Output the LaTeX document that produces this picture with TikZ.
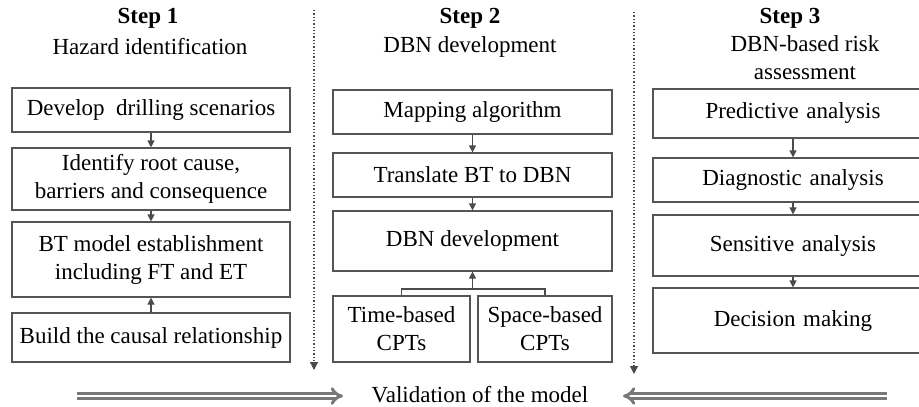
\documentclass[tikz,border=0pt]{standalone}
\usepackage{fontspec}
\setmainfont{Liberation Serif}
\usepackage{tikz}
\usetikzlibrary{arrows.meta}

\definecolor{boxline}{RGB}{85,85,85}
\definecolor{arrline}{RGB}{75,75,75}
\definecolor{bigarr}{RGB}{120,120,120}

\begin{document}
\begin{tikzpicture}[x=1pt, y=-1pt,
    font=\fontsize{23}{28}\selectfont,
    stepbox/.style={draw=boxline, line width=1.2pt, align=center, inner sep=0pt},
    flow/.style={draw=arrline, line width=1.2pt, -{Triangle[length=7pt,width=7pt]}},
    phase/.style={draw=arrline, line width=1.3pt, dotted, -{Triangle[length=8pt,width=8pt]}},
    valid/.style={draw=bigarr, line width=3pt, double=white, double distance=2.5pt, -{Implies}}]
    \useasboundingbox (0,0) rectangle (919,407);

    % step 1: hazard identification
    \node[font=\fontsize{23}{28}\selectfont\bfseries] (t1) at (148,18) {Step 1};
    \node (h1) at (150,47) {Hazard identification};
    \node[stepbox, minimum width=278pt, minimum height=44pt] (scen) at (151,110) {Develop\ \ drilling scenarios};
    \node[stepbox, minimum width=278pt, minimum height=62pt] (root) at (151,179) {Identify root cause,\\barriers and consequence};
    \node[stepbox, minimum width=278pt, minimum height=75pt] (btmod) at (151,259.5) {BT model establishment\\including FT and ET};
    \node[stepbox, minimum width=278pt, minimum height=49pt] (causal) at (151,337.5) {Build the causal relationship};

    \draw[flow] (scen) -- (root);
    \draw[flow] (root) -- (btmod);
    \draw[flow] (causal) -- (btmod);

    % step 2: DBN development
    \node[font=\fontsize{23}{28}\selectfont\bfseries] (t2) at (470,18) {Step 2};
    \node (h2) at (470,47) {DBN development};
    \node[stepbox, minimum width=279pt, minimum height=44pt] (mapalg) at (472.5,112) {Mapping algorithm};
    \node[stepbox, minimum width=279pt, minimum height=44pt] (transl) at (472.5,175) {Translate BT to DBN};
    \node[stepbox, minimum width=279pt, minimum height=60pt] (dbndev) at (472.5,241) {DBN development};
    \node[stepbox, minimum width=137pt, minimum height=66pt] (tcpt) at (401.5,329) {Time-based\\CPTs};
    \node[stepbox, minimum width=134pt, minimum height=66pt] (scpt) at (545,329) {Space-based\\CPTs};
    \coordinate (join) at (472.5,289);

    \draw[flow] (mapalg) -- (transl);
    \draw[flow] (transl) -- (dbndev);
    \draw[draw=arrline, line width=1.2pt] (tcpt.north) |- (join) -| (scpt.north);
    \draw[flow] (join) -- (dbndev.south);

    % step 3: DBN-based risk assessment (boxes run off the right edge)
    \node[font=\fontsize{23}{28}\selectfont\bfseries] (t3) at (790,18) {Step 3};
    \node[align=center] (h3) at (805,58) {DBN-based risk\\assessment};
    \node[stepbox, minimum width=280pt, minimum height=49pt, text width=250pt, xshift=6pt] (pred) at (787,113.5) {Predictive analysis};
    \node[stepbox, minimum width=280pt, minimum height=44pt, text width=250pt, xshift=6pt] (diag) at (787,180) {Diagnostic analysis};
    \node[stepbox, minimum width=280pt, minimum height=61pt, text width=250pt, xshift=6pt] (sens) at (787,245.5) {Sensitive analysis};
    \node[stepbox, minimum width=280pt, minimum height=65pt, text width=250pt, xshift=6pt] (decis) at (787,320.5) {Decision making};

    \draw[flow] (pred) -- (diag);
    \draw[flow] (diag) -- (sens);
    \draw[flow] (sens) -- (decis);

    % separators between the steps
    \coordinate (sepAtop) at (314,10);
    \coordinate (sepAbot) at (314,370);
    \coordinate (sepBtop) at (634,12);
    \coordinate (sepBbot) at (634,374);
    \draw[phase] (sepAtop) -- (sepAbot);
    \draw[phase] (sepBtop) -- (sepBbot);

    % validation loop
    \node[anchor=base, inner sep=0pt, text depth=0pt] (valtxt) at (480,402) {Validation of the model};
    \coordinate (lstart) at (77,396);
    \coordinate (lend) at (343,396);
    \coordinate (rstart) at (887,396);
    \coordinate (rend) at (623,396);
    \draw[valid] (lstart) -- (lend);
    \draw[valid] (rstart) -- (rend);
\end{tikzpicture}
\end{document}
